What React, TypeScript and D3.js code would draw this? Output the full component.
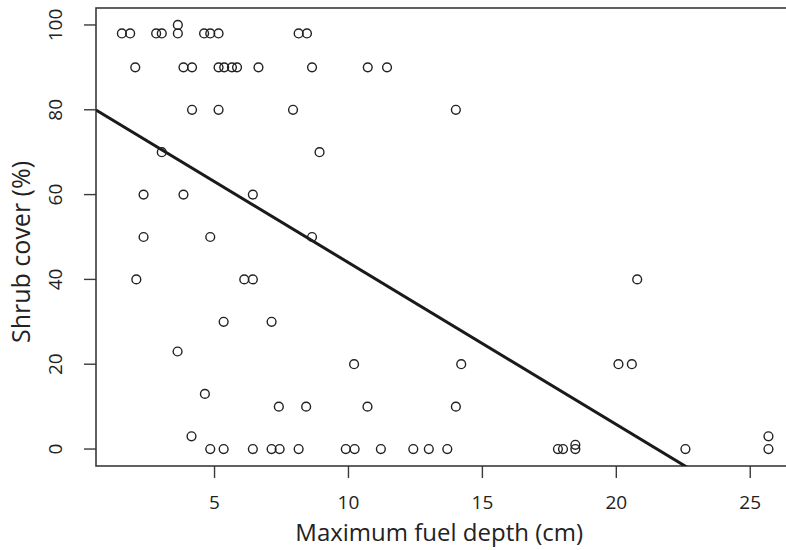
import React from "react";
import * as d3 from "d3";

const fuelDepth = [
  1.54, 1.85, 2.82, 3.03, 3.63, 3.63, 4.61, 4.84, 5.15, 8.14, 8.45,
  2.04, 3.84, 4.16, 5.15, 5.36, 5.65, 5.84, 6.64, 8.64, 10.72, 11.44,
  4.16, 5.15, 7.93, 14.01,
  3.03, 8.92,
  2.35, 3.84, 6.43,
  2.35, 4.84, 8.64,
  2.08, 6.11, 6.43, 20.78,
  5.34, 7.13,
  3.62,
  10.21, 14.21, 20.08, 20.58,
  4.64,
  7.4, 8.42, 10.71, 14.01,
  4.14, 25.68,
  18.47,
  4.84, 5.34, 6.43, 7.13, 7.43, 8.14, 9.9, 10.23, 11.21, 12.42, 13.0, 13.69,
  17.82, 18.01, 18.47, 22.58, 25.68,
];
const shrubCover = [
  98, 98, 98, 98, 98, 100, 98, 98, 98, 98, 98,
  90, 90, 90, 90, 90, 90, 90, 90, 90, 90, 90,
  80, 80, 80, 80,
  70, 70,
  60, 60, 60,
  50, 50, 50,
  40, 40, 40, 40,
  30, 30,
  23,
  20, 20, 20, 20,
  13,
  10, 10, 10, 10,
  3, 3,
  1,
  0, 0, 0, 0, 0, 0, 0, 0, 0, 0, 0, 0,
  0, 0, 0, 0, 0,
];
const xTicks = [5, 10, 15, 20, 25];
const yTicks = [0, 20, 40, 60, 80, 100];
const fitIntercept = 82.13;
const fitSlope = -3.817;
const xLabel = "Maximum fuel depth (cm)";
const yLabel = "Shrub cover (%)";

export default function App() {
  const W = 786;
  const H = 550;
  const left = 96;
  const top = 8;
  const bottom = 466;
  const xMin = d3.min(fuelDepth)!;
  const xMax = d3.max(fuelDepth)!;
  const xPad = (xMax - xMin) * 0.04;
  const x = d3.scaleLinear().domain([xMin - xPad, xMax + xPad]).range([left, left + (xMax - xMin + 2 * xPad) * 26.785]);
  const y = d3.scaleLinear().domain([-4, 104]).range([bottom, top]);
  const right = x.range()[1];
  const font = "'Open Sans', sans-serif";
  const axisColor = "#3a3a3a";
  const [d0, d1] = x.domain();
  const lineGen = d3.line<number>().x((v) => x(v)).y((v) => y(fitIntercept + fitSlope * v));
  return (
    <svg width={W} height={H} style={{ position: "absolute", left: 0, top: 0, background: "#fff" }} fontFamily={font}>
      <defs>
        <clipPath id="plotClip">
          <rect x={left} y={top} width={right - left} height={bottom - top} />
        </clipPath>
      </defs>
      <rect x={left} y={top} width={right - left} height={bottom - top} fill="none" stroke={axisColor} strokeWidth={1.6} />
      {xTicks.map((t) => (
        <g key={"x" + t}>
          <line x1={x(t)} x2={x(t)} y1={bottom} y2={bottom + 12} stroke={axisColor} strokeWidth={1.4} />
          <text x={x(t)} y={509} textAnchor="middle" fontSize={19} fill="#222">{t}</text>
        </g>
      ))}
      {yTicks.map((t) => (
        <g key={"y" + t}>
          <line x1={left - 12} x2={left} y1={y(t)} y2={y(t)} stroke={axisColor} strokeWidth={1.4} />
          <text transform={`translate(62,${y(t)}) rotate(-90)`} textAnchor="middle" fontSize={19} fill="#222">{t}</text>
        </g>
      ))}
      <text x={(left + right) / 2 - 6} y={541} textAnchor="middle" fontSize={24} fill="#222">{xLabel}</text>
      <text transform={`translate(30,252) rotate(-90)`} textAnchor="middle" fontSize={25} fill="#222">{yLabel}</text>
      <g clipPath="url(#plotClip)">
        <path d={lineGen([d0, d1]) || ""} fill="none" stroke="#1a1a1a" strokeWidth={3} />
      </g>
      {fuelDepth.map((v, i) => (
        <circle key={i} cx={x(v)} cy={y(shrubCover[i])} r={4.4} fill="none" stroke="#222" strokeWidth={1.4} />
      ))}
    </svg>
  );
}
